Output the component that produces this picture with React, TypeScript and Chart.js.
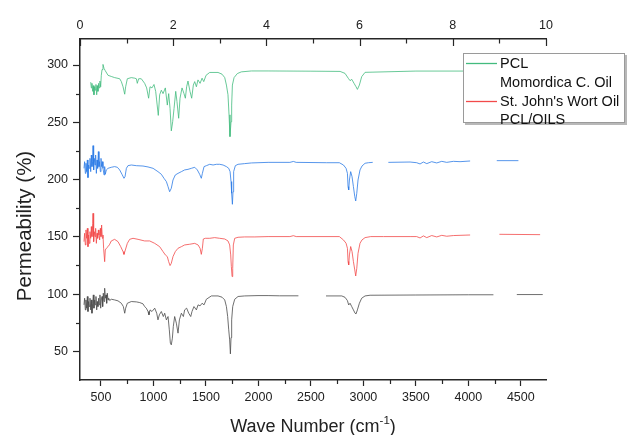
import { useEffect, useRef } from "react";
import { Chart, registerables } from "chart.js";

Chart.register(...registerables);

// ---------- data ----------
const seriesLabels = ["PCL", "Momordica C. Oil", "St. John's Wort Oil", "PCL/OILS"];
const seriesColors = ["#43bb7e", "#2c7be6", "#f24a4a", "#4a4a4a"];
const legendLineShown = [true, false, true, false];

const xMajorTicks = [500, 1000, 1500, 2000, 2500, 3000, 3500, 4000, 4500];
const xMinorTicks = [750, 1250, 1750, 2250, 2750, 3250, 3750, 4250];
const yMajorTicks = [50, 100, 150, 200, 250, 300];
const yMinorTicks = [75, 125, 175, 225, 275];
const topMajorTicks = [0, 2, 4, 6, 8, 10];
const topMinorTicks = [1, 3, 5, 7, 9];

type Pt = [number, number | null];

const pclSpectrum: Pt[] = [
  [402, 285], [408, 280], [414, 284], [421, 277], [427, 282], [433, 274], [440, 281], [446, 278],
  [452, 283], [459, 274], [465, 282], [471, 277], [478, 284], [484, 280], [490, 286], [497, 281],
  [503, 291], [510, 296], [519, 300.5], [529, 297], [541, 295], [567, 291], [598, 290], [630, 289],
  [678, 288], [694, 285.5], [710, 281], [726, 274.5], [735, 281], [751, 288], [789, 289], [821, 288.5],
  [837, 288], [846, 284], [859, 288], [884, 288], [916, 284], [935, 280], [954, 271], [967, 281],
  [986, 280], [1005, 283], [1021, 277], [1030, 269.5], [1046, 256], [1059, 274], [1075, 278], [1091, 275],
  [1113, 280], [1132, 265], [1145, 275], [1158, 262], [1170, 242.5], [1183, 250.5], [1196, 262], [1212, 277],
  [1224, 268], [1240, 253.5], [1253, 271], [1272, 280], [1291, 275], [1304, 271], [1316, 281], [1329, 286],
  [1348, 277], [1364, 271], [1380, 282.5], [1393, 285.5], [1409, 281], [1424, 287], [1444, 284], [1463, 288.5],
  [1479, 285.5], [1501, 291], [1536, 293.5], [1615, 293.5], [1653, 292], [1679, 289], [1695, 282.5], [1710, 274],
  [1720, 256.5], [1729, 237.5], [1739, 250.5], [1745, 265], [1752, 282.5], [1768, 289], [1799, 292.5], [1837, 294],
  [1933, 294.8], [2092, 294.8], [2500, 294.6], [2778, 294.4], [2825, 292.7], [2857, 288.3], [2873, 286.3], [2889, 287.5],
  [2911, 284], [2930, 281], [2943, 278.7], [2962, 282.5], [2984, 289.8], [3016, 293.6], [3500, 294.7], [4000, 294.7],
  [4700, 294.7],
];

const momordicaSpectrum: Pt[] = [
  [338, 209.8], [344, 215.6], [351, 205.4], [357, 214.2], [363, 206.9], [370, 217.1], [376, 201.7], [382, 212.7],
  [389, 209.8], [395, 218.5], [402, 206.9], [408, 221.4], [414, 211.3], [421, 215.6], [424, 229.6], [430, 208.4],
  [436, 218.5], [443, 212.7], [449, 221.4], [456, 205.4], [462, 217.1], [468, 209.8], [475, 224.4], [481, 211.3],
  [487, 215.6], [494, 206.9], [500, 218.5], [506, 211.3], [513, 215.6], [519, 209.8], [529, 204], [535, 211.3],
  [541, 204.6], [551, 208.4], [567, 209.8], [598, 210.7], [630, 211.3], [656, 210.7], [678, 208.4], [700, 204.6],
  [719, 201.1], [729, 202.5], [742, 209.8], [757, 212.1], [789, 212.7], [837, 212.1], [900, 211.8], [948, 211],
  [996, 209.8], [1043, 206.9], [1075, 204.6], [1100, 201.1], [1123, 198.2], [1139, 193.8], [1154, 189.4], [1170, 192.4],
  [1186, 199.6], [1208, 204], [1234, 205.4], [1266, 206.9], [1297, 208.4], [1329, 208.9], [1361, 209.8], [1393, 210.7],
  [1418, 208.4], [1440, 204.6], [1456, 201.1], [1466, 205.4], [1482, 211.3], [1504, 212.1], [1536, 213.3], [1568, 212.7],
  [1599, 213.3], [1631, 213.3], [1663, 212.7], [1695, 211.3], [1717, 209.8], [1730, 206.9], [1739, 198.2], [1745, 188],
  [1752, 178.4], [1758, 189.4], [1764, 206.9], [1780, 212.1], [1806, 213.3], [1869, 213.9], [1933, 214.5], [2092, 215],
  [2300, 215], [2333, 215.8], [2360, 215], [2650, 214.7], [2771, 214.7], [2810, 212.7], [2835, 209.8], [2848, 205.4],
  [2854, 193.8], [2860, 190.9], [2867, 199.6], [2879, 206.9], [2892, 202.5], [2905, 193.8], [2918, 185.1], [2927, 181.3],
  [2937, 188], [2949, 199.6], [2968, 208.4], [2987, 211.8], [3016, 214.2], [3048, 214.7], [3089, 215], [3160, null],
  [3238, 215], [3445, 215.3], [3508, 214.7], [3540, 213.6], [3572, 215.3], [3604, 213.9], [3651, 215.6], [3699, 214.5],
  [3747, 215.9], [3794, 215], [3858, 215.9], [3921, 215.6], [4017, 216.2], [4140, null], [4271, 216.5], [4477, 216.5],
];

const stJohnsSpectrum: Pt[] = [
  [338, 145.8], [344, 153.1], [351, 142.9], [357, 156], [363, 148.7], [370, 157.4], [376, 141.4], [382, 151.6],
  [389, 144.3], [395, 154.5], [402, 148.7], [408, 158.9], [414, 150.2], [421, 161.8], [424, 170.5], [430, 145.8],
  [436, 154.5], [443, 150.2], [449, 157.4], [456, 144.3], [462, 153.1], [468, 148.7], [475, 156], [481, 151.6],
  [487, 147.3], [494, 157.4], [500, 150.2], [506, 160.3], [513, 148.7], [519, 151.6], [525, 140], [535, 128.3],
  [541, 138.5], [551, 140], [567, 141.4], [583, 143.5], [598, 146.4], [630, 147.8], [662, 145.8], [688, 141.4],
  [710, 137.1], [719, 134.7], [732, 138.5], [751, 144.3], [773, 147.8], [805, 148.7], [853, 147.8], [916, 146.4],
  [964, 146.4], [1012, 144.3], [1059, 141.4], [1091, 137.1], [1113, 134.2], [1132, 132.7], [1145, 128.3], [1158, 124.9],
  [1170, 126.9], [1186, 132.7], [1208, 137.1], [1234, 140], [1266, 141.4], [1297, 142.9], [1345, 143.5], [1393, 144.3],
  [1425, 142.9], [1444, 140], [1456, 134.7], [1466, 140], [1475, 148.1], [1494, 148.7], [1536, 148.7], [1583, 149.3],
  [1631, 148.7], [1679, 148.1], [1710, 146.4], [1726, 142.9], [1736, 134.2], [1742, 124], [1749, 115.3], [1755, 122.5],
  [1761, 142.9], [1774, 148.7], [1806, 149.6], [1869, 149.9], [1965, 149.9], [2092, 150.2], [2300, 150.2], [2333, 151],
  [2360, 150.2], [2771, 150.2], [2810, 147.3], [2835, 144.4], [2848, 140], [2854, 128.4], [2860, 125.4], [2867, 134.2],
  [2879, 141.5], [2892, 137.1], [2905, 128.4], [2918, 121.1], [2927, 115.8], [2937, 122.5], [2949, 135.6], [2968, 144.4],
  [2987, 147.3], [3016, 149.3], [3070, 150.2], [3191, 150.2], [3445, 150.2], [3508, 150.2], [3540, 149], [3572, 150.8],
  [3604, 149.3], [3651, 151.1], [3699, 149.9], [3747, 151.3], [3794, 150.5], [3858, 151.1], [3921, 151.3], [4017, 151.6],
  [4150, null], [4296, 152.2], [4684, 151.9],
];

const pclOilsSpectrum: Pt[] = [
  [338, 90.6], [344, 96.4], [351, 86.2], [357, 94.9], [363, 87.7], [370, 97.9], [376, 84.8], [382, 93.5],
  [389, 89.1], [395, 96.4], [402, 86.2], [408, 94.9], [414, 83.3], [421, 92], [427, 99.3], [433, 87.7],
  [440, 94.9], [446, 90.6], [452, 97.9], [459, 86.2], [465, 93.5], [471, 89.1], [478, 96.4], [484, 90.6],
  [490, 99.3], [497, 87.7], [503, 94.9], [510, 97.9], [516, 89.1], [522, 100.8], [529, 93.5], [535, 105.1],
  [541, 96.4], [548, 99.3], [554, 92], [560, 100.8], [567, 94.9], [573, 96.4], [583, 94.4], [598, 95.5],
  [630, 94.9], [662, 94.1], [694, 92], [713, 89.1], [726, 83.3], [735, 87.7], [751, 92], [789, 93.5],
  [837, 93.2], [869, 92.6], [900, 91.5], [916, 89.1], [932, 87.7], [948, 84.8], [957, 81.9], [967, 86.2],
  [986, 84.8], [1012, 87.7], [1031, 83.3], [1043, 77.5], [1056, 81.9], [1075, 84.8], [1094, 80.4], [1107, 83.3],
  [1123, 77.5], [1139, 80.4], [1151, 68.8], [1161, 57.1], [1170, 55.7], [1180, 61.5], [1189, 71.7], [1202, 80.4],
  [1218, 74.6], [1234, 65.9], [1247, 77.5], [1266, 83.3], [1285, 80.4], [1297, 86.2], [1316, 87.7], [1336, 83.3],
  [1355, 80.4], [1367, 84.8], [1386, 89.1], [1409, 86.2], [1425, 90.6], [1444, 89.7], [1463, 92], [1482, 90.6],
  [1504, 95.5], [1552, 98.4], [1615, 98.4], [1653, 97.3], [1679, 94.9], [1695, 89.1], [1707, 80.4], [1717, 68.8],
  [1726, 60], [1733, 47.8], [1739, 62], [1745, 77.5], [1755, 89.1], [1774, 95.5], [1806, 97.9], [1869, 98.4],
  [1996, 98.7], [2092, 98.7], [2200, 98.5], [2381, 98.5], [2500, null], [2644, 98.4], [2794, 98.4], [2825, 97.2],
  [2848, 94.3], [2860, 90.5], [2873, 92], [2889, 89.1], [2905, 86.2], [2921, 83.3], [2930, 82.7], [2943, 86.2],
  [2962, 92], [2984, 96.4], [3016, 98.4], [3064, 99], [3500, 99.2], [4000, 99.4], [4239, 99.4], [4350, null],
  [4462, 99.6], [4709, 99.6],
];

const spectra = [pclSpectrum, momordicaSpectrum, stJohnsSpectrum, pclOilsSpectrum];

// ---------- style ----------
const FONT = "'Liberation Sans', Arial, sans-serif";
const AXIS_COLOR = "#262626";
const TEXT_COLOR = "#222";

const overlayPlugin = {
  id: "overlay",
  afterDraw(chart: any) {
    const ctx: CanvasRenderingContext2D = chart.ctx;
    const area = chart.chartArea;
    const xs = chart.scales.x;
    const ys = chart.scales.y;
    const ts = chart.scales.x2;
    ctx.save();
    ctx.strokeStyle = AXIS_COLOR;
    ctx.lineWidth = 1.2;
    const seg = (x1: number, y1: number, x2: number, y2: number) => {
      ctx.beginPath();
      ctx.moveTo(x1, y1);
      ctx.lineTo(x2, y2);
      ctx.stroke();
    };
    for (const v of yMinorTicks) {
      const py = Math.round(ys.getPixelForValue(v)) + 0.5;
      seg(area.left - 4, py, area.left, py);
    }
    for (const v of xMinorTicks) {
      const px = Math.round(xs.getPixelForValue(v)) + 0.5;
      seg(px, area.bottom, px, area.bottom + 4);
    }
    for (const v of topMajorTicks) {
      const px = Math.round(ts.getPixelForValue(v)) + 0.5;
      seg(px, area.top, px, area.top + 7);
    }
    for (const v of topMinorTicks) {
      const px = Math.round(ts.getPixelForValue(v)) + 0.5;
      seg(px, area.top, px, area.top + 4.5);
    }

    // axis titles
    ctx.fillStyle = TEXT_COLOR;
    ctx.textAlign = "center";
    ctx.textBaseline = "middle";
    ctx.save();
    ctx.translate(25, 226);
    ctx.rotate(-Math.PI / 2);
    ctx.font = `20.5px ${FONT}`;
    ctx.fillText("Permeability (%)", 0, 0);
    ctx.restore();

    const main = "Wave Number (cm";
    const sup = "-1";
    const close = ")";
    ctx.font = `18px ${FONT}`;
    const wMain = ctx.measureText(main).width;
    const wClose = ctx.measureText(close).width;
    ctx.font = `11.5px ${FONT}`;
    const wSup = ctx.measureText(sup).width;
    const total = wMain + wSup + wClose;
    let cx = (area.left + area.right) / 2 - total / 2;
    const ty = 427;
    ctx.textAlign = "left";
    ctx.font = `18px ${FONT}`;
    ctx.fillText(main, cx, ty);
    cx += wMain;
    ctx.font = `11.5px ${FONT}`;
    ctx.fillText(sup, cx, ty - 6);
    cx += wSup;
    ctx.font = `18px ${FONT}`;
    ctx.fillText(close, cx, ty);

    // legend
    const lx = 463, ly = 53, lw = 162, lh = 70;
    ctx.fillStyle = "#b8b8b8";
    ctx.fillRect(lx + 2, ly + 2, lw, lh);
    ctx.fillStyle = "#ffffff";
    ctx.fillRect(lx, ly, lw, lh);
    ctx.strokeStyle = "#9a9a9a";
    ctx.lineWidth = 1;
    ctx.strokeRect(lx + 0.5, ly + 0.5, lw - 1, lh - 1);
    const rows = [63, 81.5, 100.5, 118.5];
    ctx.font = `14.5px ${FONT}`;
    ctx.textBaseline = "middle";
    ctx.textAlign = "left";
    seriesLabels.forEach((label, i) => {
      if (legendLineShown[i]) {
        ctx.strokeStyle = seriesColors[i];
        ctx.lineWidth = 1.3;
        seg(466, Math.round(rows[i]) + 0.5, 497, Math.round(rows[i]) + 0.5);
      }
      ctx.fillStyle = "#111";
      ctx.fillText(label, 500, rows[i] + 1);
    });
    ctx.restore();
  },
};

export default function App() {
  const canvasRef = useRef<HTMLCanvasElement | null>(null);

  useEffect(() => {
    if (!canvasRef.current) return;
    const tickFont = { family: FONT, size: 12.5 };
    const plain = (v: any) => String(v);
    const chart = new Chart(canvasRef.current, {
      type: "line",
      data: {
        datasets: spectra.map((s, i) => ({
          label: seriesLabels[i],
          data: s.map(([x, y]) => ({ x, y })),
          borderColor: seriesColors[i],
          backgroundColor: seriesColors[i],
          borderWidth: 0.8,
          pointRadius: 0,
          tension: 0,
          spanGaps: false,
          xAxisID: "x",
          yAxisID: "y",
        })),
      },
      options: {
        animation: false,
        responsive: false,
        maintainAspectRatio: false,
        layout: { padding: { left: 0, right: 87, top: 0, bottom: 0 } },
        plugins: { legend: { display: false }, tooltip: { enabled: false } },
        scales: {
          x: {
            type: "linear",
            position: "bottom",
            min: 300,
            max: 4740,
            afterBuildTicks: (s: any) => {
              s.ticks = xMajorTicks.map((v) => ({ value: v }));
            },
            afterFit: (s: any) => {
              s.height = 55;
            },
            grid: { drawOnChartArea: false, drawTicks: true, tickLength: 6, color: AXIS_COLOR, tickWidth: 1.2 },
            border: { display: true, color: AXIS_COLOR, width: 1.5 },
            ticks: { font: tickFont, color: TEXT_COLOR, padding: 4, maxRotation: 0, autoSkip: false, callback: plain },
          },
          x2: {
            type: "linear",
            position: "top",
            min: 0,
            max: 10,
            afterBuildTicks: (s: any) => {
              s.ticks = topMajorTicks.map((v) => ({ value: v }));
            },
            afterFit: (s: any) => {
              s.height = 39;
            },
            grid: { drawOnChartArea: false, drawTicks: false },
            border: { display: true, color: AXIS_COLOR, width: 1.5 },
            ticks: { font: tickFont, color: TEXT_COLOR, padding: 6, maxRotation: 0, autoSkip: false, callback: plain },
          },
          y: {
            type: "linear",
            position: "left",
            min: 25,
            max: 322.7,
            afterBuildTicks: (s: any) => {
              s.ticks = yMajorTicks.map((v) => ({ value: v }));
            },
            afterFit: (s: any) => {
              s.width = 80;
            },
            grid: { drawOnChartArea: false, drawTicks: true, tickLength: 7, color: AXIS_COLOR, tickWidth: 1.2 },
            border: { display: true, color: AXIS_COLOR, width: 1.5 },
            ticks: { font: tickFont, color: TEXT_COLOR, padding: 5, callback: plain },
          },
        },
      },
      plugins: [overlayPlugin],
    });
    return () => chart.destroy();
  }, []);

  return (
    <div style={{ position: "fixed", left: 0, top: 0, width: 633, height: 435, background: "#fff" }}>
      <canvas ref={canvasRef} width={633} height={435} style={{ display: "block", width: 633, height: 435 }} />
    </div>
  );
}
